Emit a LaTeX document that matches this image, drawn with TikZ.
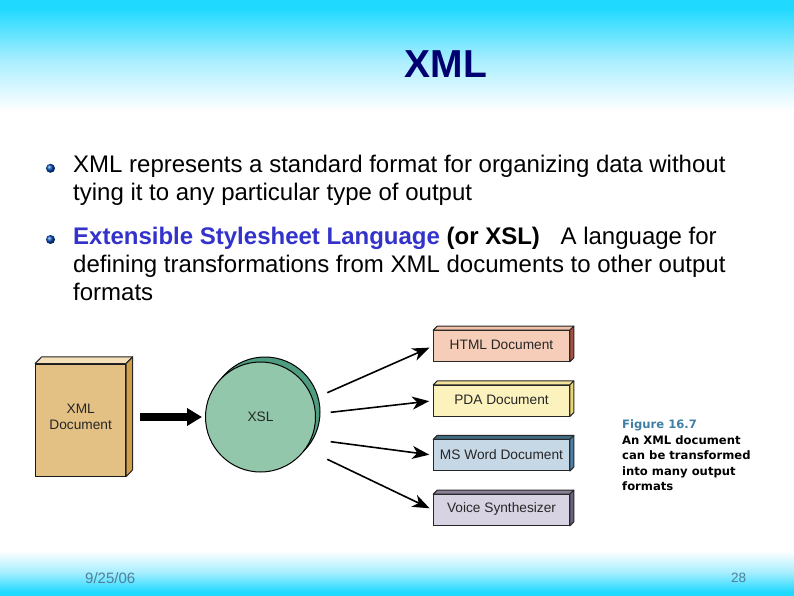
\documentclass[tikz,border=0pt]{standalone}
\usepackage{fontspec}
\setmainfont{Liberation Sans}
\newfontfamily\capfont{DejaVu Sans}
\usetikzlibrary{arrows.meta,calc}
\definecolor{skyc}{HTML}{1FD9FF}
\definecolor{paleb}{HTML}{A8EEFF}
\definecolor{navyt}{HTML}{000070}
\definecolor{blueb}{HTML}{3333CC}
\definecolor{tanm}{HTML}{E3C084}
\definecolor{tanl}{HTML}{F3DFB8}
\definecolor{tand}{HTML}{CFA04C}
\definecolor{greenm}{HTML}{93C7AB}
\definecolor{greend}{HTML}{4F9D80}
\definecolor{redm}{HTML}{F6CDB8}
\definecolor{redt}{HTML}{F0C0A8}
\definecolor{reds}{HTML}{A85040}
\definecolor{yelm}{HTML}{FBF2BE}
\definecolor{yelt}{HTML}{F5E59A}
\definecolor{yels}{HTML}{EBD670}
\definecolor{blum}{HTML}{C6D7E6}
\definecolor{blut}{HTML}{3F6A80}
\definecolor{blus}{HTML}{4A80AA}
\definecolor{viom}{HTML}{D8D3E3}
\definecolor{viot}{HTML}{8A8098}
\definecolor{vios}{HTML}{6A6080}
\definecolor{capc}{HTML}{3F7FA5}
\definecolor{footc}{HTML}{4F7F98}
\pgfdeclareverticalshading{topfade}{100bp}{color(0bp)=(white); color(28bp)=(white); color(49.6bp)=(paleb); color(71.6bp)=(skyc); color(100bp)=(skyc)}
\pgfdeclareverticalshading{botfade}{100bp}{color(0bp)=(skyc); color(29bp)=(skyc); color(50bp)=(paleb); color(72bp)=(white); color(100bp)=(white)}
\tikzset{
 x=1pt,y=-1pt,
 bodytext/.style={anchor=base west,inner sep=0,text=black,font=\fontsize{24}{28}\selectfont},
 boxlabel/.style={inner sep=0,text=black!85,font=\fontsize{13.7}{16}\selectfont},
 capline/.style={anchor=base west,inner sep=0,font=\capfont\bfseries\fontsize{11.6}{14}\selectfont},
 foot/.style={anchor=base west,inner sep=0,text=footc},
 ptr/.style={line width=1.6pt,draw=black,-{Stealth[length=17pt,width=13pt,inset=5pt]},shorten >=4pt},
 front/.style={draw=black!85,line width=1pt,inner sep=0,minimum width=135.6pt,minimum height=30.6pt},
 facet/.style={draw=black!85,line width=1pt,line join=round},
 bullet/.style={circle,minimum size=9pt,inner sep=0,ball color=blue!60!cyan!70!black},
}
\begin{document}
\begin{tikzpicture}
\useasboundingbox (0,0) rectangle (794,596);
\fill[white] (0,0) rectangle (794,596);
\shade[shading=topfade] (0,0) rectangle (794,118);
\shade[shading=botfade] (0,548) rectangle (794,596);

\node[inner sep=0,text=navyt,font=\bfseries\fontsize{39}{44}\selectfont] (title) at (446,64) {XML};

\node[bullet] (b1) at (50.5,168.3) {};
\node[bullet] (b2) at (50.5,239.5) {};
\node[bodytext] (l1) at (73,172) {XML represents a standard format for organizing data without};
\node[bodytext] (l2) at (73,200) {tying it to any particular type of output};
\node[bodytext] (l3) at (73,244) {\textcolor{blueb}{\textbf{Extensible Stylesheet Language}} \textbf{(or XSL)}\hspace{14pt} A language for};
\node[bodytext] (l4) at (73,272) {defining transformations from XML documents to other output};
\node[bodytext] (l5) at (73,300) {formats};

% XML document
\node[draw=black!90,line width=1pt,fill=tanm,minimum width=90pt,minimum height=112pt,inner sep=0] (xml) at (80.7,420) {};
\path[facet,fill=tanl] (xml.north west) -- ++(6.5,-6.7) -- ($(xml.north east)+(6.5,-6.7)$) -- (xml.north east) -- cycle;
\path[facet,fill=tand] (xml.north east) -- ++(6.5,-6.7) -- ($(xml.south east)+(6.5,-6.7)$) -- (xml.south east) -- cycle;
\node[inner sep=0,align=center,text=black!85,font=\fontsize{13.7}{16}\selectfont] (xmll) at (80.7,417) {XML\\Document};

% XSL
\node[circle,draw=black,line width=1pt,fill=greend,minimum size=110pt,inner sep=0] (xslb) at (265,412) {};
\node[circle,draw=black,line width=1pt,fill=greenm,minimum size=110pt,inner sep=0,text=black!85,font=\fontsize{13.7}{16}\selectfont] (xsl) at (260.5,417) {XSL};

% Big arrow
\coordinate (bigs) at (140,417);
\draw[line width=8.7pt,-{Triangle[length=15pt,width=17pt]},draw=black,shorten >=3pt] (bigs) -- (xsl.west);

% Output boxes
\node[front,fill=redm] (html) at (501.5,346) {};
\node[front,fill=yelm] (pda) at (501.5,400.7) {};
\node[front,fill=blum] (word) at (501.5,455.2) {};
\node[front,fill=viom] (voice) at (501.5,510) {};
\foreach \n/\t/\s in {html/redt/reds,pda/yelt/yels,word/blut/blus,voice/viot/vios}{
 \path[facet,fill=\t] (\n.north west) -- ++(4,-4) -- ($(\n.north east)+(4,-4)$) -- (\n.north east) -- cycle;
 \path[facet,fill=\s] (\n.north east) -- ++(4,-4) -- ($(\n.south east)+(4,-4)$) -- (\n.south east) -- cycle;
}
\node[boxlabel] (htmll) at (501.5,345) {HTML Document};
\node[boxlabel] (pdal) at (501.5,399.7) {PDA Document};
\node[boxlabel] (wordl) at (501.5,454.5) {MS Word Document};
\node[boxlabel] (voicel) at (501.5,509) {Voice Synthesizer};

\coordinate (s1) at (327.3,392.7);
\coordinate (s2) at (330.7,412.3);
\coordinate (s3) at (330.7,441.7);
\coordinate (s4) at (327.3,459.3);
\draw[ptr] (s1) -- (html.west);
\draw[ptr] (s2) -- (pda.west);
\draw[ptr] (s3) -- (word.west);
\draw[ptr] (s4) -- (voice.west);

% Caption
\node[capline,text=capc] (c1) at (622,428.5) {Figure 16.7};
\node[capline,text=black] (c2) at (622,444) {An XML document};
\node[capline,text=black] (c3) at (622,459.5) {can be transformed};
\node[capline,text=black] (c4) at (622,475) {into many output};
\node[capline,text=black] (c5) at (622,490.5) {formats};

\node[foot,font=\fontsize{15}{16}\selectfont] (date) at (85,583) {9/25/06};
\node[foot,font=\fontsize{13.5}{16}\selectfont] (page) at (731,582) {28};
\end{tikzpicture}
\end{document}
